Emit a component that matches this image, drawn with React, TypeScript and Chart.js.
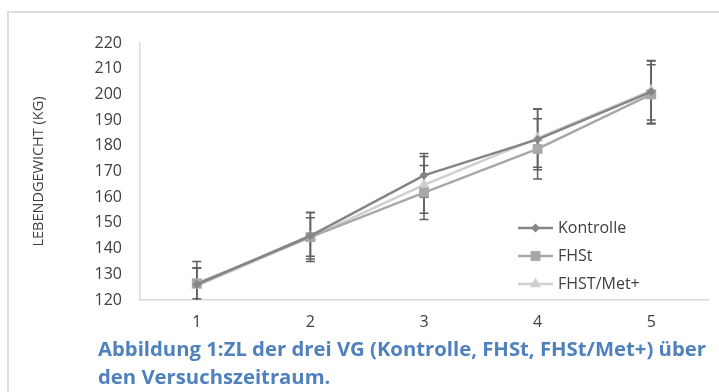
import React, { useEffect, useRef } from "react";
import { Chart, registerables } from "chart.js";

Chart.register(...registerables);

const categories = ["1", "2", "3", "4", "5"];
const seriesNames = ["Kontrolle", "FHSt", "FHST/Met+"];
const kontrolle = [126, 145, 168.5, 182.5, 201];
const fhst = [126.5, 144.5, 161.8, 178.8, 200];
const fhstMet = [125.5, 144.5, 164.8, 183, 201.5];
const kontrolleErr = [9, 9, 8.5, 11.8, 12.2];
const fhstErr = [6, 9.5, 10.5, 11.7, 11.5];
const fhstMetErr = [7, 7.5, 11, 11.3, 11.5];
const yMin = 120;
const yMax = 220;
const yStep = 10;
const yTitle = "LEBENDGEWICHT (KG)";
const captionLine1 = "Abbildung 1:ZL der drei VG (Kontrolle, FHSt, FHSt/Met+) über";
const captionLine2 = "den Versuchszeitraum.";

const colors = ["#858585", "#a8a8a8", "#cfcfcf"];
const pointStyles = ["rectRot", "rect", "triangle"];
const pointRadii = [4.5, 7, 6.5];
const FONT = "'Open Sans', sans-serif";

const errorBarPlugin = {
  id: "errorBars",
  beforeDatasetsDraw(chart: any) {
    const { ctx, chartArea, scales } = chart;
    const errs = [kontrolleErr, fhstErr, fhstMetErr];
    ctx.save();
    ctx.beginPath();
    ctx.rect(chartArea.left, chartArea.top - 20, chartArea.right - chartArea.left, chartArea.bottom - chartArea.top + 20);
    ctx.clip();
    ctx.strokeStyle = "#5f5f5f";
    ctx.lineWidth = 1.5;
    chart.data.datasets.forEach((ds: any, di: number) => {
      const meta = chart.getDatasetMeta(di);
      ds.data.forEach((v: number, i: number) => {
        const x = meta.data[i].x;
        const yt = scales.y.getPixelForValue(v + errs[di][i]);
        const yb = scales.y.getPixelForValue(v - errs[di][i]);
        ctx.beginPath();
        ctx.moveTo(x, yt);
        ctx.lineTo(x, yb);
        ctx.moveTo(x - 4.5, yt);
        ctx.lineTo(x + 4.5, yt);
        ctx.moveTo(x - 4.5, yb);
        ctx.lineTo(x + 4.5, yb);
        ctx.stroke();
      });
    });
    ctx.restore();
  },
};

const legendPlugin = {
  id: "innerLegend",
  afterDraw(chart: any) {
    const { ctx } = chart;
    const x0 = 518;
    const len = 35;
    const ys = [228, 256, 284];
    ctx.save();
    seriesNames.forEach((name, i) => {
      const y = ys[i];
      ctx.strokeStyle = colors[i];
      ctx.lineWidth = 2.5;
      ctx.beginPath();
      ctx.moveTo(x0, y);
      ctx.lineTo(x0 + len, y);
      ctx.stroke();
      ctx.fillStyle = colors[i];
      const r = pointRadii[i];
      ctx.beginPath();
      const cx = x0 + len / 2;
      if (pointStyles[i] === "rectRot") {
        ctx.moveTo(cx - r, y);
        ctx.lineTo(cx, y - r);
        ctx.lineTo(cx + r, y);
        ctx.lineTo(cx, y + r);
      } else if (pointStyles[i] === "rect") {
        const s = r * Math.SQRT1_2;
        ctx.rect(cx - s, y - s, 2 * s, 2 * s);
      } else {
        ctx.moveTo(cx, y - r);
        ctx.lineTo(cx + r * 0.866, y + r * 0.5);
        ctx.lineTo(cx - r * 0.866, y + r * 0.5);
      }
      ctx.closePath();
      ctx.fill();
      ctx.fillStyle = "#404040";
      ctx.font = `16px ${FONT}`;
      ctx.textBaseline = "middle";
      ctx.textAlign = "left";
      ctx.fillText(name, x0 + len + 5, y);
    });
    ctx.restore();
  },
};

function ChartView() {
  const ref = useRef<HTMLCanvasElement>(null);
  useEffect(() => {
    if (!ref.current) return;
    const data = [kontrolle, fhst, fhstMet];
    const chart = new Chart(ref.current, {
      type: "line",
      data: {
        labels: categories,
        datasets: seriesNames.map((name, i) => ({
          label: name,
          data: data[i],
          borderColor: colors[i],
          backgroundColor: colors[i],
          borderWidth: 2.5,
          pointStyle: pointStyles[i] as any,
          pointRadius: pointRadii[i],
          pointBorderWidth: 0,
          pointBackgroundColor: colors[i],
          tension: 0,
        })),
      },
      options: {
        responsive: false,
        animation: false,
        devicePixelRatio: 1,
        layout: { padding: { top: 43, right: 11, left: 0, bottom: 0 } },
        plugins: { legend: { display: false }, tooltip: { enabled: false } },
        scales: {
          x: {
            offset: true,
            grid: { display: false, drawTicks: false },
            border: { display: true, color: "#d9d9d9", width: 1.5 },
            ticks: { color: "#404040", font: { family: FONT, size: 16 }, padding: 13 },
            afterFit: (s: any) => { s.height = 40; },
          },
          y: {
            min: yMin,
            max: yMax,
            grid: { display: false, drawTicks: false },
            border: { display: true, color: "#d9d9d9", width: 1.5 },
            ticks: { stepSize: yStep, color: "#404040", font: { family: FONT, size: 16 }, padding: 18 },
            title: {
              display: true,
              text: yTitle,
              color: "#404040",
              font: { family: FONT, size: 14.5 },
              padding: { top: 30, bottom: 0 },
            },
            afterFit: (s: any) => { s.width = 140; },
          },
        },
      },
      plugins: [errorBarPlugin, legendPlugin],
    });
    return () => chart.destroy();
  }, []);
  return <canvas ref={ref} width={719} height={340} style={{ position: "absolute", left: 0, top: 0 }} />;
}

export default function App() {
  return (
    <div style={{ position: "absolute", left: 0, top: 0, width: 719, height: 392, overflow: "hidden", background: "#fff" }}>
      <div style={{ position: "absolute", left: 7, top: 11, width: 800, height: 500, borderTop: "2px solid #dcdcdc", borderLeft: "2px solid #dcdcdc" }} />
      <ChartView />
      <div
        style={{
          position: "absolute",
          left: 98,
          top: 334,
          fontFamily: FONT,
          fontWeight: 700,
          fontSize: 20.3,
          lineHeight: "28px",
          color: "#4f81bd",
          whiteSpace: "nowrap",
        }}
      >
        <div>{captionLine1}</div>
        <div>{captionLine2}</div>
      </div>
    </div>
  );
}
